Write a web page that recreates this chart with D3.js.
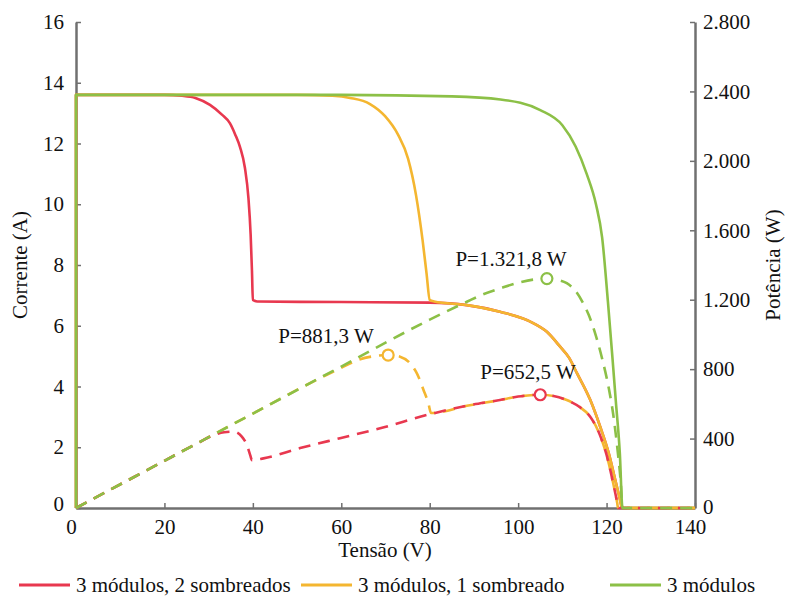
<!DOCTYPE html>
<html><head><meta charset="utf-8">
<script src="https://cdn.jsdelivr.net/npm/d3@7/dist/d3.min.js"></script>
</head>
<body style="margin:0"><svg id="c" width="786" height="597"></svg>
<script>
const seriesNames = ["3 módulos, 2 sombreados", "3 módulos, 1 sombreado", "3 módulos"];
const seriesColors = ["#e8384f", "#f4b630", "#8cc047"];
const xTicks = [0, 20, 40, 60, 80, 100, 120, 140];
const yLeftTicks = [0, 2, 4, 6, 8, 10, 12, 14, 16];
const yRightTicks = [0, 400, 800, 1200, 1600, 2000, 2400, 2800];
const yRightLabels = ["0", "400", "800", "1.200", "1.600", "2.000", "2.400", "2.800"];

// I-V curves [V, A]
const ivRed = [[0,0],[0,13.6],[10,13.6],[20,13.6],[24,13.57],[27,13.5],[30.3,13.27],[33,12.95],[34.8,12.67],[36,12.3],[37.1,11.88],[38.2,11.2],[39,10.2],[39.5,9.0],[39.8,7.8],[40,6.85],[41,6.8],[60,6.78],[80,6.76],[88.4,6.68],[95.9,6.46],[103.4,6.09],[106.5,5.8],[109.5,5.31],[111.5,4.95],[113.3,4.44],[116.3,3.56],[118.5,2.7],[120.5,1.8],[122,0.9],[123,0.3],[123.5,0],[140,0]];
const ivOrange = [[0,0],[0,13.6],[20,13.6],[40,13.6],[50,13.6],[58,13.57],[62,13.5],[66.5,13.3],[69.9,12.9],[72.8,12.3],[75.1,11.5],[76.9,10.3],[78.4,8.8],[79.3,7.7],[80,6.85],[81,6.8],[88.4,6.68],[95.9,6.46],[103.4,6.09],[106.5,5.8],[109.5,5.31],[111.5,4.95],[113.3,4.44],[116.3,3.56],[118.5,2.7],[120.5,1.8],[122,0.9],[123,0.3],[123.5,0],[140,0]];
const ivGreen = [[0,0],[0,13.6],[20,13.6],[40,13.6],[60,13.6],[85,13.55],[96,13.45],[105,13.1],[110,12.6],[113,11.9],[115.5,11.0],[117.6,10.0],[119,8.9],[120.3,6.8],[121.3,5.0],[122.1,3.5],[123,1.8],[123.6,0],[140,0]];

// P-V curves [V, W]
const pvRed = [[0,0],[10,136],[20,272],[28,380],[31.1,420],[33.5,436],[35.6,440],[37.5,411],[38.7,360],[39.4,305],[39.8,276],[42.4,286],[50.7,345],[59.7,402],[68.8,459],[80,540],[88.4,589],[95.9,622],[100,642],[105,652.5],[108,645],[111,622],[114,580],[116.3,526],[118.5,420],[120.4,267],[121.5,142],[122.4,30],[122.6,0],[140,0]];
const pvOrange = [[0,0],[20,272],[40,544],[55,746],[60,808],[64,855],[67.2,874],[70.6,881.3],[73.3,872],[75.5,835],[77.1,776],[78.6,680],[79.7,603],[80.3,547],[88.4,589],[95.9,622],[100,642],[105,652.5],[108,645],[111,622],[114,580],[116.3,526],[118.5,420],[120.4,267],[121.5,142],[122.4,30],[122.6,0],[140,0]];
const pvGreen = [[0,0],[20,272],[40,544],[60,815],[80,1085],[88.4,1188],[92,1230],[95.9,1265],[100,1298],[103.4,1316],[106.5,1321.8],[109,1314],[111,1295],[113,1250],[114.7,1180],[116,1110],[117.4,1008],[119,860],[120.5,690],[121.5,540],[122.5,330],[123.2,150],[123.6,0],[140,0]];

// maximum power points
const mppV = [105, 70.6, 106.5];
const mppP = [652.5, 881.3, 1321.8];
const mppLabels = ["P=652,5 W", "P=881,3 W", "P=1.321,8 W"];

const svg = d3.select("#c");
const x = d3.scaleLinear().domain([0,140]).range([76,695]);
const yL = d3.scaleLinear().domain([0,16]).range([508,22]);
const yR = d3.scaleLinear().domain([0,2800]).range([508,22]);
const axisColor = "#707070";
const FS = 21;
const SERIF = '"Liberation Serif"';

// axes
const gx = svg.append("g").attr("transform","translate(0,508)")
  .call(d3.axisBottom(x).tickValues(xTicks).tickSizeInner(-5).tickSizeOuter(0).tickPadding(9));
const gl = svg.append("g").attr("transform","translate(76,0)")
  .call(d3.axisLeft(yL).tickValues(yLeftTicks).tickSizeInner(-5).tickSizeOuter(0).tickPadding(12));
const gr = svg.append("g").attr("transform","translate(695,0)")
  .call(d3.axisRight(yR).tickValues(yRightTicks).tickFormat((d,i)=>yRightLabels[i]).tickSizeInner(-5).tickSizeOuter(0).tickPadding(8));
[gx,gl,gr].forEach(g=>{
  g.attr("font-family",null).attr("font-size",null);
  g.select(".domain").attr("stroke",axisColor).attr("stroke-width",2.5);
  g.selectAll(".tick line").attr("stroke",axisColor).attr("stroke-width",1.5);
  g.selectAll(".tick text").style("font-family",SERIF).attr("font-size",FS).attr("fill","#111");
});
gx.selectAll(".tick text").attr("dy","0.8em").attr("dx",d=>(d===0||d===140)?-5:0);
gl.selectAll(".tick text").filter(d=>d===0).attr("dy","0.1em");
gr.selectAll(".tick text").filter(d=>d===0).attr("dy","0.25em");

function txt(){ return svg.append("text").style("font-family",SERIF).attr("font-size",FS).attr("fill","#111"); }

// axis titles
txt().attr("x",385).attr("y",557).attr("text-anchor","middle").text("Tensão (V)");
txt().attr("transform","translate(27,265) rotate(-90)").attr("text-anchor","middle").text("Corrente (A)");
txt().attr("transform","translate(780,265) rotate(-90)").attr("text-anchor","middle").text("Potência (W)");

// line builder: straight first segment (vertical at V=0), monotone for the rest
function pathFor(data, yScale){
  const lin = d3.line().x(d=>x(d[0])).y(d=>yScale(d[1]));
  const mono = d3.line().x(d=>x(d[0])).y(d=>yScale(d[1])).curve(d3.curveMonotoneX);
  if (data[0][0] === data[1][0]) {
    return lin(data.slice(0,2)) + mono(data.slice(1)).replace(/^M/, "L");
  }
  return mono(data);
}

const ivs = [ivRed, ivOrange, ivGreen];
ivs.forEach((d,i)=>{
  svg.append("path").attr("d",pathFor(d,yL)).attr("fill","none")
    .attr("stroke",seriesColors[i]).attr("stroke-width",2.6).attr("stroke-linejoin","round");
});
const pvs = [pvOrange, pvRed, pvGreen];
const pcol = [seriesColors[1], seriesColors[0], seriesColors[2]];
pvs.forEach((d,i)=>{
  svg.append("path").attr("d",pathFor(d,yR)).attr("fill","none")
    .attr("stroke",pcol[i]).attr("stroke-width",2.6).attr("stroke-dasharray","12,8");
});

// markers + labels
mppV.forEach((v,i)=>{
  svg.append("circle").attr("cx",x(v)).attr("cy",yR(mppP[i])).attr("r",5.5)
    .attr("fill","#fff").attr("stroke",seriesColors[i]).attr("stroke-width",2.2);
});
const labelPos = [[528,379],[326,343],[511,266]];
mppLabels.forEach((t,i)=>{
  txt().attr("x",labelPos[i][0]).attr("y",labelPos[i][1]).attr("text-anchor","middle").text(t);
});

// legend
const legX = [19, 301, 610];
seriesNames.forEach((n,i)=>{
  svg.append("line").attr("x1",legX[i]).attr("x2",legX[i]+51).attr("y1",585).attr("y2",585)
    .attr("stroke",seriesColors[i]).attr("stroke-width",3);
  txt().attr("x",legX[i]+57).attr("y",592).text(n);
});
</script></body></html>
